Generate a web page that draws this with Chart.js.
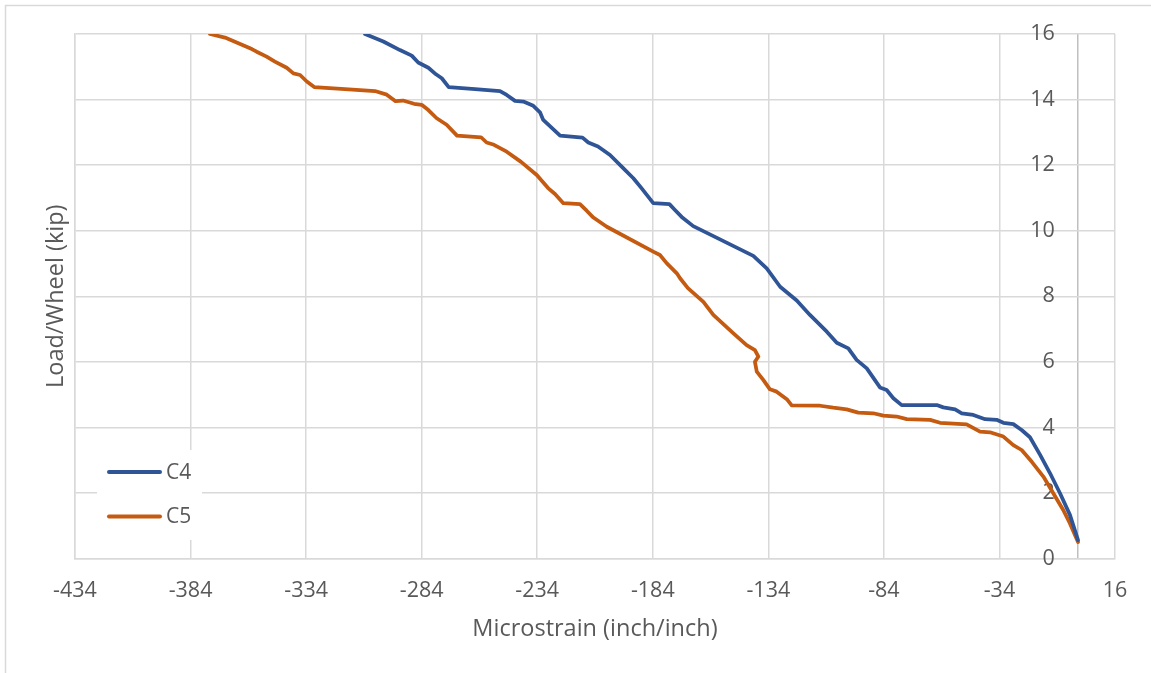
<!DOCTYPE html>
<html>
<head>
<meta charset="utf-8">
<script src="https://cdn.jsdelivr.net/npm/chart.js@4/dist/chart.umd.min.js"></script>
<style>
html,body{margin:0;padding:0;background:#fff;}
canvas{display:block;}
</style>
</head>
<body>
<canvas id="c" width="1151" height="673"></canvas>
<script>
// ---- data ----
const seriesNames = ['C4', 'C5'];
const c4X = [-308.5,-300.6,-293.4,-288.3,-285.5,-281.1,-277.8,-275.3,-272.3,-260.9,-250.1,-247.2,-243.6,-240.0,-235.7,-232.8,-231.4,-224.1,-214.4,-211.9,-207.7,-202.5,-196.7,-192.4,-188.8,-183.8,-176.8,-174.4,-171.5,-166.5,-140.5,-134.7,-128.9,-121.7,-116.0,-108.7,-104.4,-99.4,-95.8,-91.4,-85.7,-82.8,-79.9,-76.3,-61.1,-58.3,-53.2,-50.3,-45.3,-40.2,-35.2,-32.3,-28.0,-24.4,-20.8,-16.4,-12.1,-7.8,-3.5,0];
const c4Y = [16.0,15.77,15.51,15.34,15.13,14.97,14.77,14.65,14.38,14.32,14.26,14.14,13.96,13.94,13.81,13.61,13.38,12.90,12.84,12.69,12.57,12.31,11.90,11.60,11.29,10.84,10.81,10.63,10.42,10.14,9.23,8.85,8.29,7.87,7.43,6.92,6.58,6.41,6.06,5.80,5.22,5.14,4.89,4.68,4.68,4.61,4.55,4.43,4.38,4.25,4.23,4.14,4.10,3.92,3.70,3.16,2.60,1.99,1.33,0.56];
const c5X = [-375.6,-369.1,-363.3,-357.5,-355.4,-351.1,-347.5,-342.4,-339.5,-336.6,-333.7,-330.5,-317.2,-304.2,-299.1,-295.3,-292.1,-287.3,-284.0,-281.1,-277.5,-273.2,-268.7,-258.3,-255.9,-252.7,-247.2,-241.0,-234.2,-229.3,-226.3,-222.7,-215.5,-212.6,-209.7,-203.9,-183.8,-180.9,-178.0,-173.6,-172.2,-168.8,-162.1,-157.8,-149.1,-143.4,-139.8,-138.3,-139.8,-139.0,-136.2,-133.3,-130.4,-126.0,-123.9,-111.6,-105.9,-100.1,-95.1,-88.6,-84.2,-78.5,-74.1,-64.0,-59.7,-48.2,-42.4,-38.1,-32.3,-28.0,-24.4,-20.0,-15.0,-10.7,-6.4,-3.5,0];
const c5Y = [16.0,15.89,15.72,15.54,15.46,15.31,15.16,14.97,14.80,14.75,14.55,14.38,14.32,14.26,14.15,13.95,13.97,13.87,13.84,13.68,13.43,13.23,12.90,12.85,12.69,12.62,12.41,12.10,11.70,11.30,11.12,10.84,10.81,10.61,10.40,10.12,9.36,9.26,9.01,8.70,8.55,8.25,7.83,7.43,6.87,6.51,6.36,6.16,6.00,5.70,5.45,5.16,5.09,4.86,4.67,4.66,4.60,4.55,4.45,4.43,4.36,4.33,4.25,4.23,4.14,4.09,3.87,3.85,3.72,3.46,3.31,2.95,2.50,1.99,1.48,1.07,0.50];
const xTicks = [-434,-384,-334,-284,-234,-184,-134,-84,-34,16];
const yTicks = [0,2,4,6,8,10,12,14,16];
const yAxisCrossing = 0;
const xTitle = 'Microstrain (inch/inch)';
const yTitle = 'Load/Wheel (kip)';

// ---- styles ----
const FONT = "'Open Sans', 'Liberation Sans', sans-serif";
const TXT = '#595959';
const GRID = '#D9D9D9';
const AXIS = '#BFBFBF';
const colors = ['#2F5597', '#C55A11'];
const yLabelGapPx = 23;

const toPts = (xs, ys) => xs.map((x, i) => ({x: x, y: ys[i]}));

const framePlugin = {
  id: 'frame',
  beforeDraw(chart) {
    const ctx = chart.ctx;
    ctx.save();
    ctx.fillStyle = '#fff';
    ctx.fillRect(0, 0, chart.width, chart.height);
    ctx.strokeStyle = GRID;
    ctx.lineWidth = 1.5;
    ctx.strokeRect(5.5, 5.5, chart.width + 50, chart.height + 50);
    ctx.restore();
  }
};

const legendPlugin = {
  id: 'boxLegend',
  afterDraw(chart) {
    const ctx = chart.ctx;
    ctx.save();
    ctx.fillStyle = '#fff';
    ctx.fillRect(97, 450, 105, 90);
    const rows = [472, 516.5];
    chart.data.datasets.forEach((ds, i) => {
      const y = rows[i];
      ctx.strokeStyle = ds.borderColor;
      ctx.lineWidth = 4;
      ctx.lineCap = 'round';
      ctx.beginPath();
      ctx.moveTo(109, y);
      ctx.lineTo(160, y);
      ctx.stroke();
      ctx.fillStyle = TXT;
      ctx.font = "21px " + FONT;
      ctx.textBaseline = 'middle';
      ctx.textAlign = 'left';
      ctx.fillText(ds.label, 166, y + 1);
    });
    ctx.restore();
  }
};

new Chart(document.getElementById('c'), {
  type: 'scatter',
  data: {
    datasets: [
      {label: seriesNames[0], data: toPts(c4X, c4Y), borderColor: colors[0], backgroundColor: colors[0]},
      {label: seriesNames[1], data: toPts(c5X, c5Y), borderColor: colors[1], backgroundColor: colors[1]}
    ].map(d => Object.assign(d, {showLine: true, pointRadius: 0, borderWidth: 3.75, tension: 0, borderJoinStyle: 'round', borderCapStyle: 'round', yAxisID: 'y', xAxisID: 'x'}))
  },
  options: {
    responsive: false,
    devicePixelRatio: 1,
    animation: false,
    layout: {padding: {top: 34, right: 36, bottom: 0, left: 0}},
    plugins: {legend: {display: false}, tooltip: {enabled: false}},
    scales: {
      x: {
        type: 'linear',
        position: 'bottom',
        min: -434, max: 16,
        afterBuildTicks: s => { s.ticks = xTicks.concat([yAxisCrossing]).sort((a, b) => a - b).map(v => ({value: v})); },
        afterFit: s => { s.height = 114.5; },
        grid: {color: ctx => (ctx.tick && ctx.tick.value === yAxisCrossing ? AXIS : GRID), lineWidth: 1.5, drawTicks: false},
        border: {color: GRID, width: 1.5},
        ticks: {color: TXT, font: {family: FONT, size: 21.5}, padding: 19, maxRotation: 0, autoSkip: false,
                callback: v => (xTicks.includes(v) ? String(v) : '')},
        title: {display: true, text: xTitle, color: TXT, font: {family: FONT, size: 23.5}, padding: {top: 0, bottom: 30}}
      },
      y: {
        type: 'linear',
        position: 'left',
        min: 0, max: 16,
        afterBuildTicks: s => { s.ticks = yTicks.map(v => ({value: v})); },
        afterFit: s => { s.width = 75; },
        grid: {color: GRID, lineWidth: 1.5, drawTicks: false},
        border: {color: GRID, width: 1.5},
        ticks: {display: false},
        title: {display: true, text: yTitle, color: TXT, font: {family: FONT, size: 23.5}, padding: {top: 42, bottom: 0}}
      },
      y2: {
        type: 'linear',
        position: {x: yAxisCrossing - 10},
        min: 0, max: 16,
        afterBuildTicks: s => { s.ticks = yTicks.map(v => ({value: v})); },
        grid: {display: false, drawTicks: false},
        border: {display: false},
        ticks: {color: TXT, font: {family: FONT, size: 21.5}, padding: 0, callback: v => String(v)}
      }
    }
  },
  plugins: [framePlugin, legendPlugin]
});
</script>
</body>
</html>
